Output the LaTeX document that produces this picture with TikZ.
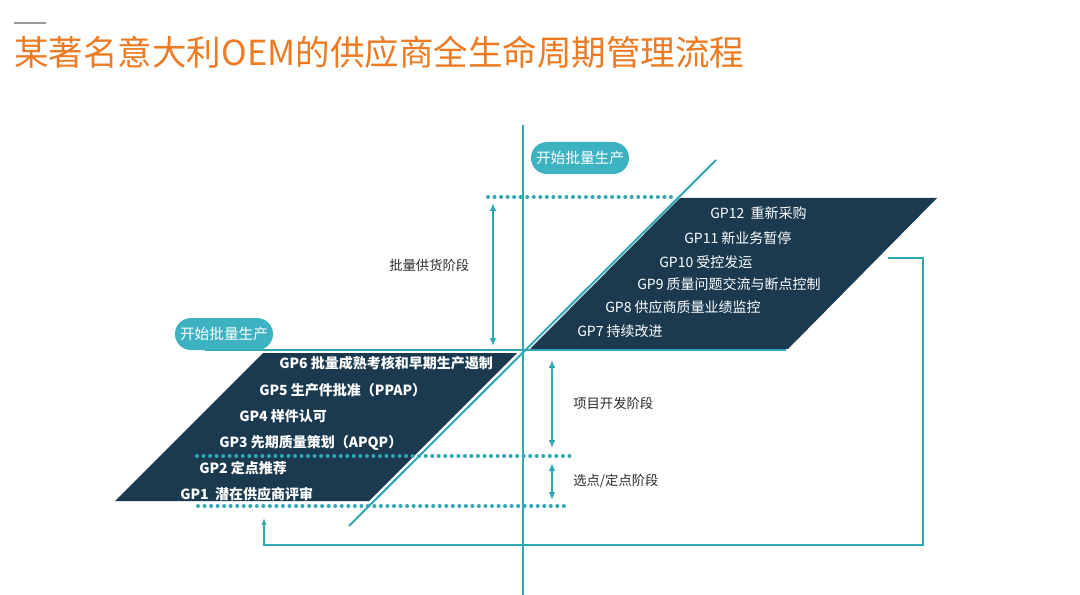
\documentclass[tikz,border=0pt]{standalone}
\usepackage{fontspec}
\setmainfont{Noto Sans CJK SC}
\usetikzlibrary{arrows.meta}
\definecolor{LCNavy}{HTML}{1B3A50}
\definecolor{LCTeal}{HTML}{2FA7B5}
\definecolor{LCPill}{HTML}{3DB2C0}
\definecolor{LCOrange}{HTML}{EE7A22}
\definecolor{LCGray}{HTML}{9A9A9A}
\definecolor{LCText}{HTML}{2B2B2B}

\tikzset{
  gpupper/.style={anchor=west,text=white,inner sep=0pt,font=\fontsize{10.5}{12}\selectfont},
  gplower/.style={anchor=west,text=white,inner sep=0pt,font=\fontsize{10.5}{12}\selectfont\bfseries},
  pill/.style={fill=LCPill,text=white,rounded corners=12pt,minimum width=73.5pt,minimum height=24pt,inner sep=0pt,font=\fontsize{11}{12}\selectfont},
  phase/.style={anchor=west,text=LCText,inner sep=0pt,font=\fontsize{10}{12}\selectfont},
  dots/.style={LCTeal,line width=3pt,line cap=round,dash pattern=on 0pt off 4.9pt},
  span/.style={LCTeal,line width=1.5pt,{Latex[length=6pt,width=5pt]}-{Latex[length=6pt,width=5pt]}},
  axis/.style={LCTeal,line width=1.5pt}
}

\begin{document}
\begin{tikzpicture}[x=0.75pt,y=-0.75pt]
\path[use as bounding box] (0,0) rectangle (1080,595);
\fill[white] (0,0) rectangle (1080,595);
% heading
\draw[LCGray,line width=1.2pt] (14,23) -- (46,23);
\node[anchor=west,inner sep=0pt,text=LCOrange,font=\fontsize{25.9}{30}\selectfont] (title) at (14,52) {某著名意大利OEM的供应商全生命周期管理流程};
% the two stages
\fill[LCNavy] (680,198) -- (937,198) -- (788,349) -- (530,349) -- cycle;
\fill[LCNavy] (263,353) -- (517,353) -- (369,501) -- (115,501) -- cycle;
% axes
\draw[axis] (523,125) -- (523,595);
\draw[axis] (205,350) -- (786,350);
\draw[axis] (349,526) -- (716,160);
% phase borders
\draw[dots] (488,197) -- (672,197);
\draw[dots] (197,456) -- (570,456);
\draw[dots] (198,506) -- (570,506);
% start of series production
\node[pill] (startlow) at (224,334) {开始批量生产};
\node[pill] (starthigh) at (580,158) {开始批量生产};
% upper steps
\node[gpupper] (gp12) at (710,213) {GP12\ \ 重新采购};
\node[gpupper] (gp11) at (684,238) {GP11 新业务暂停};
\node[gpupper] (gp10) at (659,262) {GP10 受控发运};
\node[gpupper] (gp9) at (637,284) {GP9 质量问题交流与断点控制};
\node[gpupper] (gp8) at (605,307) {GP8 供应商质量业绩监控};
\node[gpupper] (gp7) at (577,331) {GP7 持续改进};
% lower steps
\node[gplower] (gp6) at (279,363) {GP6 批量成熟考核和早期生产遏制};
\node[gplower] (gp5) at (259,390) {GP5 生产件批准（PPAP）};
\node[gplower] (gp4) at (239,416) {GP4 样件认可};
\node[gplower] (gp3) at (219,443) {GP3 先期质量策划（APQP）};
\node[gplower] (gp2) at (199,468) {GP2 定点推荐};
\node[gplower] (gp1) at (180,494) {GP1\ \ 潜在供应商评审};
% phases
\coordinate (supplytop) at (493,203);
\coordinate (supplybot) at (493,346);
\coordinate (devtop) at (552,360);
\coordinate (devbot) at (552,448);
\coordinate (seltop) at (552,463);
\coordinate (selbot) at (552,500);
\draw[span] (supplytop) -- (supplybot);
\draw[span] (devtop) -- (devbot);
\draw[span] (seltop) -- (selbot);
\node[phase] (supply) at (389,265) {批量供货阶段};
\node[phase] (dev) at (573,403) {项目开发阶段};
\node[phase] (sel) at (573,481) {选点/定点阶段};
% back to the start
\coordinate (loopa) at (888,258);
\coordinate (loopb) at (923,258);
\coordinate (loopc) at (923,545);
\coordinate (loopd) at (264,545);
\coordinate (loope) at (264,518);
\draw[LCTeal,line width=1.2pt,-{Latex[length=5pt,width=4pt]}] (loopa) -- (loopb) -- (loopc) -- (loopd) -- (loope);
\end{tikzpicture}
\end{document}
